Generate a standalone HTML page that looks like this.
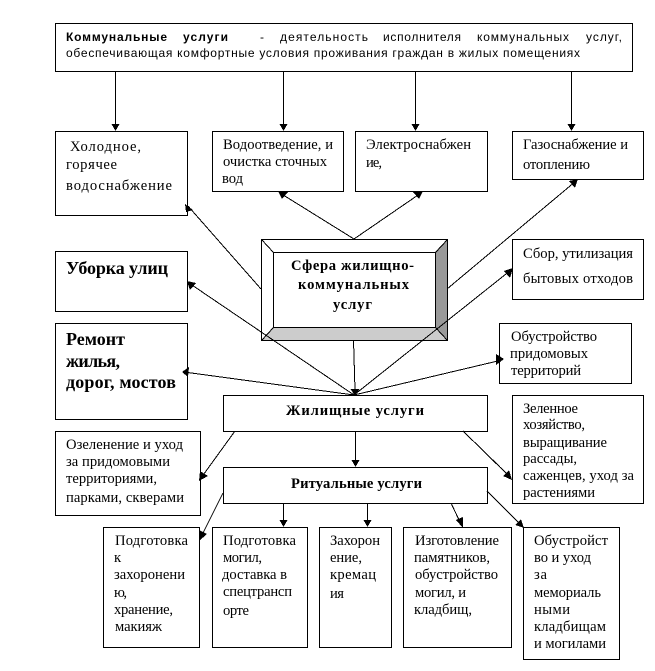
<!DOCTYPE html>
<html lang="ru"><head><meta charset="utf-8"><title>Сфера жилищно-коммунальных услуг</title>
<style>
html,body{margin:0;padding:0;background:#fff;width:655px;height:671px;overflow:hidden}
svg{display:block}
.b rect{fill:#fff;stroke:#000;stroke-width:1;shape-rendering:crispEdges}
.l line{stroke:#000;stroke-width:1;shape-rendering:crispEdges}
.a polygon{fill:#000;shape-rendering:crispEdges}
text{font-family:"Liberation Serif",serif;font-size:14.6px;fill:#000;letter-spacing:0}
.bd text{font-weight:bold}
.ar text{font-family:"Liberation Sans",sans-serif;font-size:12px}
</style></head><body>
<svg width="655" height="671" viewBox="0 0 655 671" xmlns="http://www.w3.org/2000/svg">
<rect width="655" height="671" fill="#fff"/>
<g class="b">
<rect x="55.5" y="23.5" width="577" height="48"/>
<rect x="55.5" y="131.5" width="132" height="84"/>
<rect x="212.5" y="131.5" width="131" height="60"/>
<rect x="355.5" y="131.5" width="132" height="60"/>
<rect x="512.5" y="131.5" width="131" height="48"/>
<rect x="55.5" y="251.5" width="132" height="60"/>
<rect x="55.5" y="323.5" width="132" height="96"/>
<rect x="512.5" y="239.5" width="131" height="60"/>
<rect x="499.5" y="323.5" width="132" height="60"/>
<rect x="512.5" y="395.5" width="131" height="108"/>
<rect x="223.5" y="395.5" width="264" height="36"/>
<rect x="55.5" y="431.5" width="145" height="84"/>
<rect x="223.5" y="467.5" width="264" height="36"/>
<rect x="103.5" y="527.5" width="96" height="120"/>
<rect x="212.5" y="527.5" width="95" height="120"/>
<rect x="319.5" y="527.5" width="72" height="120"/>
<rect x="403.5" y="527.5" width="108" height="120"/>
<rect x="523.5" y="527.5" width="96" height="132"/>
</g>
<!-- bevel -->
<rect x="261.5" y="239.5" width="186" height="101" fill="#fff" stroke="#000" shape-rendering="crispEdges"/>
<polygon points="435,252 447,239.5 447,340 435,327" fill="#999"/>
<polygon points="273,327 435,327 447,340 261,340" fill="#ccc"/>
<rect x="261.5" y="239.5" width="186" height="101" fill="none" stroke="#000" shape-rendering="crispEdges"/>
<rect x="273.5" y="252.5" width="162" height="75" fill="#fff" stroke="#000" shape-rendering="crispEdges"/>
<g class="l">
<line x1="261.5" y1="239.5" x2="273.5" y2="252.5"/>
<line x1="447.5" y1="239.5" x2="435.5" y2="252.5"/>
<line x1="261.5" y1="340.5" x2="273.5" y2="327.5"/>
<line x1="447.5" y1="340.5" x2="435.5" y2="327.5"/>
<line x1="115.5" y1="71" x2="115.5" y2="126"/>
<line x1="283.5" y1="71" x2="283.5" y2="126"/>
<line x1="415.5" y1="71" x2="415.5" y2="126"/>
<line x1="571.5" y1="71" x2="571.5" y2="126"/>
<line x1="261" y1="289" x2="188" y2="206"/>
<line x1="354" y1="239" x2="280" y2="193"/>
<line x1="354" y1="239" x2="421" y2="193"/>
<line x1="447" y1="289" x2="576" y2="181"/>
<line x1="354" y1="395" x2="189" y2="283"/>
<line x1="354" y1="395" x2="184" y2="372"/>
<line x1="354" y1="395" x2="511" y2="270"/>
<line x1="354" y1="395" x2="502" y2="360"/>
<line x1="353.5" y1="340" x2="355" y2="390"/>
<line x1="235" y1="431" x2="201" y2="478"/>
<line x1="355.5" y1="431" x2="355.5" y2="462"/>
<line x1="463" y1="431" x2="510" y2="477"/>
<line x1="464" y1="432" x2="500" y2="467"/>
<line x1="223" y1="493" x2="201" y2="537"/>
<line x1="283.5" y1="503" x2="283.5" y2="522"/>
<line x1="367.5" y1="503" x2="367.5" y2="522"/>
<line x1="451" y1="503" x2="460" y2="522"/>
<line x1="487" y1="491" x2="521" y2="525"/>
</g>
<g class="a">
<polygon points="111.5,124 119.5,124 115.5,131"/>
<polygon points="279.5,124 287.5,124 283.5,131"/>
<polygon points="411.5,124 419.5,124 415.5,131"/>
<polygon points="567.5,124 575.5,124 571.5,131"/>
<polygon points="185,204 193,210 186,212"/>
<polygon points="278,191 288,192 282,199"/>
<polygon points="423,191 413,192 419,199"/>
<polygon points="578,179 575,188 569,181"/>
<polygon points="187,281 196,283 190,290"/>
<polygon points="182,372 189,367 188,377"/>
<polygon points="513,268 510,278 504,271"/>
<polygon points="504,359 496,354 496,365"/>
<polygon points="350.5,389 359.5,389 355,396"/>
<polygon points="199,481 200,471 208,476"/>
<polygon points="351.5,460 359.5,460 355.5,467"/>
<polygon points="512,480 503,476 509,470"/>
<polygon points="199,541 199,530 207,534"/>
<polygon points="279.5,520 287.5,520 283.5,527"/>
<polygon points="363.5,520 371.5,520 367.5,527"/>
<polygon points="463,528 456,520 463,517"/>
<polygon points="524,528 515,525 521,519"/>
</g>
<g class="ar">
<text x="66" y="41" textLength="101" style="font-weight:bold">Коммунальные</text>
<text x="183" y="41" textLength="45" style="font-weight:bold">услуги</text>
<text x="260" y="41">-</text>
<text x="280" y="41" textLength="88">деятельность</text>
<text x="383" y="41" textLength="78">исполнителя</text>
<text x="477" y="41" textLength="92">коммунальных</text>
<text x="586" y="41" textLength="36">услуг,</text>
<text x="66" y="57" textLength="514">обеспечивающая комфортные условия проживания граждан в жилых помещениях</text>
</g>
<g>
<text x="70" y="151" textLength="71">Холодное,</text>
<text x="66" y="169" textLength="51">горячее</text>
<text x="66" y="190" textLength="106">водоснабжение</text>
<text x="223" y="149" textLength="110">Водоотведение, и</text>
<text x="223" y="166" textLength="104">очистка сточных</text>
<text x="222" y="183" textLength="21">вод</text>
<text x="366" y="149" textLength="105">Электроснабжен</text>
<text x="366" y="167" textLength="16">ие,</text>
<text x="523" y="149" textLength="105">Газоснабжение и</text>
<text x="523" y="169" textLength="67">отоплению</text>
<text x="523" y="258" textLength="110">Сбор, утилизация</text>
<text x="523" y="283" textLength="110">бытовых  отходов</text>
<text x="511" y="341" textLength="86">Обустройство</text>
<text x="510" y="358" textLength="78">придомовых</text>
<text x="511" y="375" textLength="70">территорий</text>
<text x="523" y="413" textLength="55">Зеленное</text>
<text x="523" y="429" textLength="62">хозяйство,</text>
<text x="523" y="447" textLength="84">выращивание</text>
<text x="523" y="463" textLength="54">рассады,</text>
<text x="523" y="480" textLength="111">саженцев, уход за</text>
<text x="523" y="497" textLength="72">растениями</text>
<text x="66" y="449" textLength="117">Озеленение и уход</text>
<text x="66" y="466" textLength="104">за придомовыми</text>
<text x="66" y="483" textLength="91">территориями,</text>
<text x="66" y="502" textLength="118">парками, скверами</text>
<text x="115" y="545" textLength="73">Подготовка</text>
<text x="114" y="562">к</text>
<text x="114" y="579" textLength="71">захоронени</text>
<text x="114" y="597" textLength="13">ю,</text>
<text x="114" y="614" textLength="59">хранение,</text>
<text x="115" y="631" textLength="47">макияж</text>
<text x="223" y="545" textLength="73">Подготовка</text>
<text x="223" y="562" textLength="39">могил,</text>
<text x="222" y="579" textLength="65">доставка в</text>
<text x="223" y="596" textLength="69">спецтрансп</text>
<text x="223" y="615" textLength="26">орте</text>
<text x="330" y="545" textLength="50">Захорон</text>
<text x="330" y="562" textLength="32">ение,</text>
<text x="330" y="579" textLength="46">кремац</text>
<text x="330" y="598" textLength="14">ия</text>
<text x="415" y="545" textLength="84">Изготовление</text>
<text x="414" y="562" textLength="76">памятников,</text>
<text x="415" y="579" textLength="83">обустройство</text>
<text x="415" y="597" textLength="51">могил, и</text>
<text x="414" y="614" textLength="58">кладбищ,</text>
<text x="534" y="545" textLength="74">Обустройст</text>
<text x="534" y="562" textLength="57">во и уход</text>
<text x="534" y="579" textLength="13">за</text>
<text x="534" y="597" textLength="67">мемориаль</text>
<text x="534" y="614" textLength="36">ными</text>
<text x="534" y="631" textLength="72">кладбищам</text>
<text x="534" y="648" textLength="72">и могилами</text>
</g>
<g class="bd">
<text x="291" y="270" textLength="123">Сфера жилищно-</text>
<text x="298" y="289" textLength="111">коммунальных</text>
<text x="333" y="309" textLength="39">услуг</text>
<text x="66" y="274" textLength="102" style="font-size:18px">Уборка улиц</text>
<text x="66" y="345" textLength="59" style="font-size:18px">Ремонт</text>
<text x="66" y="367" textLength="54" style="font-size:18px">жилья,</text>
<text x="66" y="388" textLength="110" style="font-size:18px">дорог, мостов</text>
<text x="286" y="415" textLength="138">Жилищные услуги</text>
<text x="291" y="488" textLength="131">Ритуальные услуги</text>
</g>
</svg>
</body></html>
